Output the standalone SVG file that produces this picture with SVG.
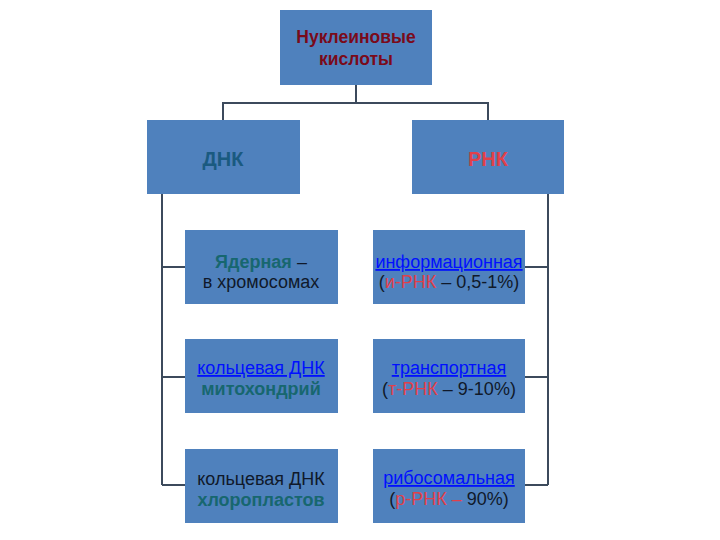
<svg xmlns="http://www.w3.org/2000/svg" width="720" height="540" viewBox="0 0 720 540">
<style>
.box{fill:#4f81bd;}
.ln{stroke:#3c4a5c;stroke-width:2;fill:none;}
text{font-family:"Liberation Sans",Arial,sans-serif;text-anchor:middle;}
.t{font-size:18px;fill:#10192a;}
.b{font-weight:bold;}
.teal{fill:#17676f;}
.red{fill:#e0404a;}
.link{fill:#0010ff;text-decoration:underline;}
.dred{fill:#7a0a1a;}
</style>
<rect width="720" height="540" fill="#ffffff"/>
<g id="connectors">
<path class="ln" d="M356 85V103M223 103H488M223 102V120M488 102V120"/>
<path class="ln" d="M162 194V485M162 267H185M162 377H185M162 485H185"/>
<path class="ln" d="M548 194V485M548 267H525M548 377H525M548 485H525"/>
</g>
<g id="root">
<rect class="box" x="280" y="10" width="152" height="75"/>
<text class="b dred" x="356" y="43" font-size="17.5">Нуклеиновые</text>
<text class="b dred" x="356" y="65" font-size="17.5">кислоты</text>
</g>
<g id="dnk">
<rect class="box" x="147" y="120" width="153" height="74"/>
<text class="b" x="223" y="166" font-size="20" fill="#1a5a80">ДНК</text>
</g>
<g id="rnk">
<rect class="box" x="412" y="120" width="152" height="74"/>
<text class="b red" x="488" y="166" font-size="20">РНК</text>
</g>
<g id="nuclear">
<rect class="box" x="185" y="230" width="153" height="74"/>
<text class="t" x="261" y="268"><tspan class="b teal">Ядерная</tspan> –</text>
<text class="t" x="261" y="288">в хромосомах</text>
</g>
<g id="mito">
<rect class="box" x="185" y="339" width="153" height="74"/>
<text class="t link" x="261" y="374">кольцевая ДНК</text>
<text class="t b teal" x="261" y="395">митохондрий</text>
</g>
<g id="chloro">
<rect class="box" x="185" y="449" width="153" height="74"/>
<text class="t" x="261" y="485">кольцевая ДНК</text>
<text class="t b teal" x="261" y="506">хлоропластов</text>
</g>
<g id="mrna">
<rect class="box" x="373" y="230" width="152" height="74"/>
<text class="t link" x="449" y="268">информационная</text>
<text class="t" x="449" y="288">(<tspan class="red">и-РНК</tspan> – 0,5-1%)</text>
</g>
<g id="trna">
<rect class="box" x="373" y="339" width="152" height="74"/>
<text class="t link" x="449" y="374">транспортная</text>
<text class="t" x="449" y="395">(<tspan class="red">т-РНК</tspan> – 9-10%)</text>
</g>
<g id="rrna">
<rect class="box" x="373" y="449" width="152" height="74"/>
<text class="t link" x="449" y="484">рибосомальная</text>
<text class="t" x="449" y="505">(<tspan class="red">р-РНК –</tspan> 90%)</text>
</g>
</svg>
